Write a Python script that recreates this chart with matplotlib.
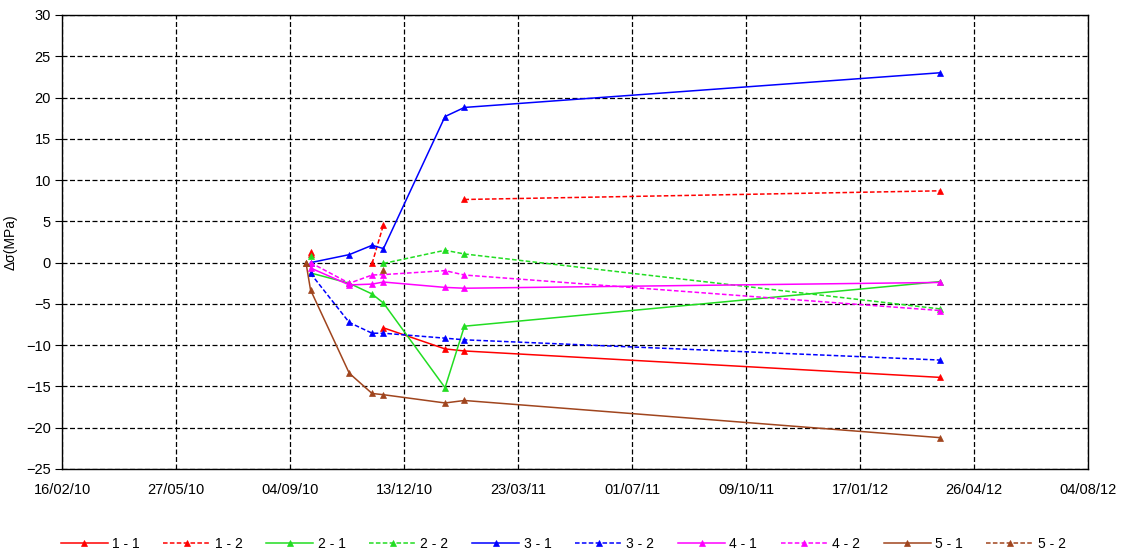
import numpy as np
import matplotlib
matplotlib.use("Agg")
import matplotlib.pyplot as plt
import matplotlib.dates as mdates
from datetime import datetime, timedelta

plt.rcParams['font.family'] = ['Liberation Sans', 'DejaVu Sans']

# Measurement dates
dates = [datetime(2010, 9, 18), datetime(2010, 9, 22), datetime(2010, 10, 26),
         datetime(2010, 11, 15), datetime(2010, 11, 25), datetime(2011, 1, 18),
         datetime(2011, 2, 4), datetime(2012, 3, 27)]

nan = np.nan
# Stress change (MPa) per gauge; NaN = no reading
s1_1 = [nan, 1.0, nan, nan, -7.9, -10.45, -10.7, -13.9]
s1_2 = [nan, 1.25, nan, -0.1, 4.6, nan, 7.65, 8.7]
s2_1 = [nan, -1.25, -2.5, -3.8, -4.9, -15.15, -7.7, -2.3]
s2_2 = [nan, 0.75, nan, nan, -0.1, 1.5, 1.05, -5.6]
s3_1 = [nan, 0.0, 0.97, 2.1, 1.7, 17.7, 18.8, 23.0]
s3_2 = [nan, -1.3, -7.25, -8.55, -8.55, -9.15, -9.35, -11.8]
s4_1 = [nan, -0.65, -2.7, -2.6, -2.35, -3.0, -3.1, -2.4]
s4_2 = [nan, 0.0, -2.5, -1.5, -1.45, -0.97, -1.5, -5.8]
s5_1 = [0.0, -3.3, -13.4, -15.85, -16.0, -17.0, -16.7, -21.2]
s5_2 = [0.0, nan, nan, nan, -0.85, nan, nan, nan]

labels = ["1 - 1", "1 - 2", "2 - 1", "2 - 2", "3 - 1", "3 - 2", "4 - 1", "4 - 2", "5 - 1", "5 - 2"]
series = [s1_1, s1_2, s2_1, s2_2, s3_1, s3_2, s4_1, s4_2, s5_1, s5_2]
colors = ["#FF0000", "#FF0000", "#22DD22", "#22DD22", "#0000FF", "#0000FF",
          "#FF00FF", "#FF00FF", "#A0451E", "#A0451E"]

fig = plt.figure(figsize=(11.22, 5.58), dpi=100)
ax = fig.add_axes([62 / 1122, 1 - 469 / 558, (1088 - 62) / 1122, (469 - 15) / 558])

for lab, vals, col in zip(labels, series, colors):
    dashed = lab.endswith("2")
    ax.plot(dates, vals, color=col, lw=1.1,
            linestyle=(0, (3, 1.5)) if dashed else '-',
            marker='^', markersize=4, markeredgewidth=0.5, label=lab)

start = datetime(2010, 2, 16)
ticks = [start + timedelta(days=100 * i) for i in range(10)]
ax.set_xlim(ticks[0], ticks[-1])
ax.set_xticks(ticks)
ax.xaxis.set_major_formatter(mdates.DateFormatter('%d/%m/%y'))
ax.set_ylim(-25, 30)
ax.set_yticks(np.arange(-25, 31, 5))

ax.grid(True, color='black', linestyle=(0, (4, 2)), linewidth=0.9)
ax.set_axisbelow(True)
for sp in ax.spines.values():
    sp.set_color('black')
    sp.set_linewidth(1.0)

ax.tick_params(axis='y', length=5, labelsize=10.5, pad=3)
ax.tick_params(axis='x', length=0, labelsize=10.5, pad=10)
ax.set_ylabel("Δσ(MPa)", fontsize=10, labelpad=6)

fig.legend(loc='center', bbox_to_anchor=(0.502, 0.025), ncol=10, frameon=False,
           fontsize=10, handlelength=3.4, columnspacing=1.7, handletextpad=0.3)

fig.savefig("out.png", dpi=100, facecolor='white')
